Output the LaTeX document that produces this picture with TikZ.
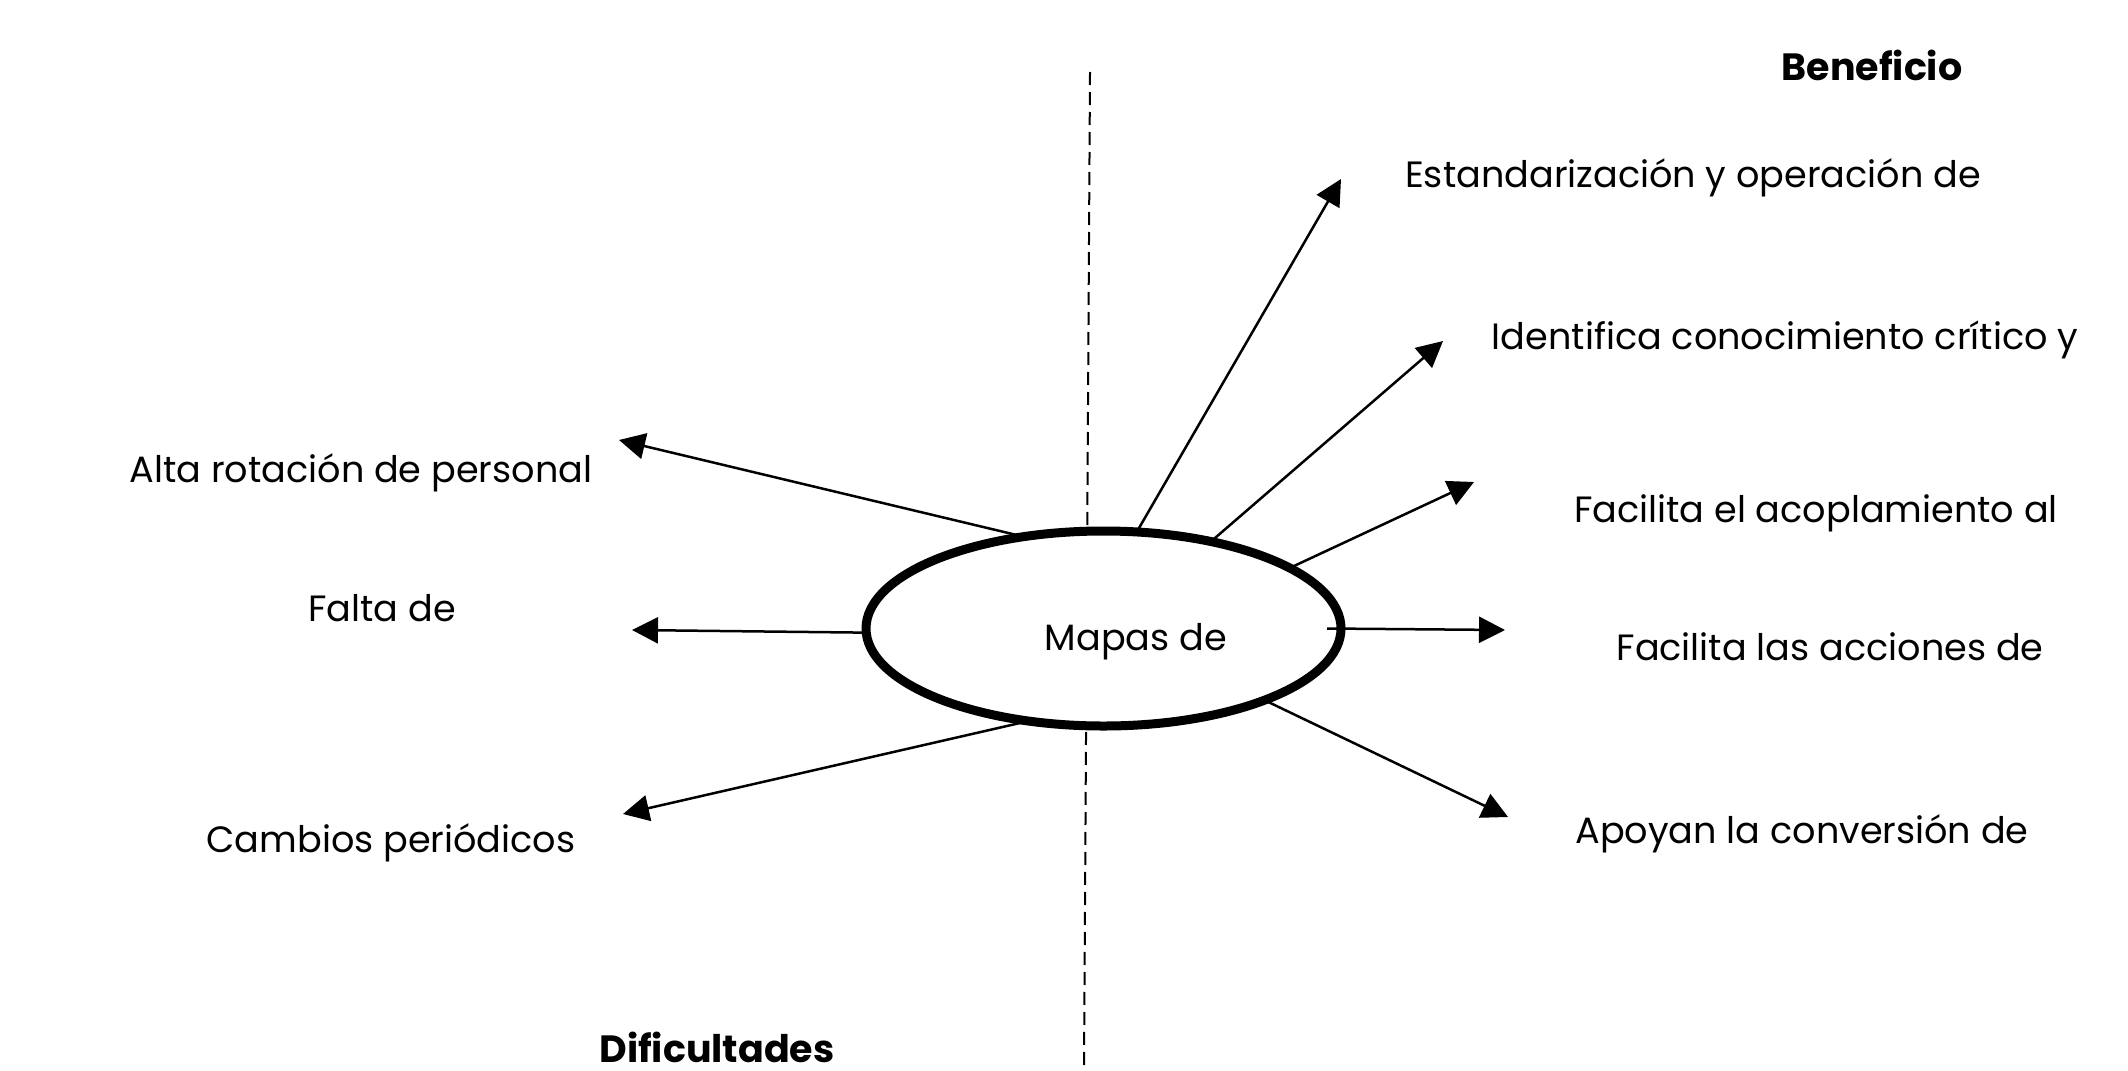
\documentclass[tikz,border=0pt]{standalone}
\usepackage{fontspec}
\setmainfont{Poppins}
\usetikzlibrary{arrows.meta,shapes.geometric}
\tikzset{
  lbl/.style={anchor=base, inner sep=0pt, font=\fontsize{18.3}{22}\selectfont},
  head/.style={anchor=base, inner sep=0pt, font=\bfseries\fontsize{19}{22}\selectfont},
  conn/.style={line width=1.25pt, -{Triangle[length=13pt,width=13pt]}},
  center/.style={ellipse, draw, line width=4.5pt, fill=white, outer sep=0pt, inner sep=0pt,
    minimum width=237.5pt, minimum height=97.5pt},
  divider/.style={line width=1pt, dash pattern=on 6.5pt off 3.5pt}
}
\begin{document}
\begin{tikzpicture}[x=0.5pt,y=-0.5pt]
\useasboundingbox (0,0) rectangle (2128,1070);
% dashed divider
\coordinate (dtop) at (1090,72);
\coordinate (dbot) at (1084,1070);
\draw[divider] (dtop) -- (dbot);
% central ellipse
\node[center] (ell) at (1103.5,628.5) {};
\node[lbl] (mapas) at (1136,650) {Mapas de};
% headings
\node[head] (ben) at (1872,81) {Beneficio};
\node[head] (dif) at (717,1062) {Dificultades};
% labels
\node[lbl] (l1) at (361,482) {Alta rotación de personal};
\node[lbl] (l2) at (382,621) {Falta de};
\node[lbl] (l3) at (391,852) {Cambios periódicos};
\node[lbl] (r1) at (1693,187) {Estandarización y operación de};
\node[lbl] (r2) at (1785,349) {Identifica conocimiento crítico y};
\node[lbl] (r3) at (1816,522) {Facilita el acoplamiento al};
\node[lbl] (r4) at (1830,660) {Facilita las acciones de};
\node[lbl] (r5) at (1802,843) {Apoyan la conversión de};
% arrow tips
\coordinate (t1) at (619,440);
\coordinate (t2) at (632,630);
\coordinate (t3) at (623,814);
\coordinate (t4) at (1341,179);
\coordinate (t5) at (1443,341);
\coordinate (t6) at (1474,482);
\coordinate (t7) at (1505,630);
\coordinate (t8) at (1508,817);
% connectors
\draw[conn] (ell.131) -- (t1);
\draw[conn] (ell.181) -- (t2);
\draw[conn] (ell.231.6) -- (t3);
\draw[conn] (ell.71.7) -- (t4);
\draw[conn] (ell.39.4) -- (t5);
\draw[conn] (ell.18) -- (t6);
\draw[conn] ([xshift=-7pt]ell.0) -- (t7);
\draw[conn] (ell.336.7) -- (t8);
\end{tikzpicture}
\end{document}
